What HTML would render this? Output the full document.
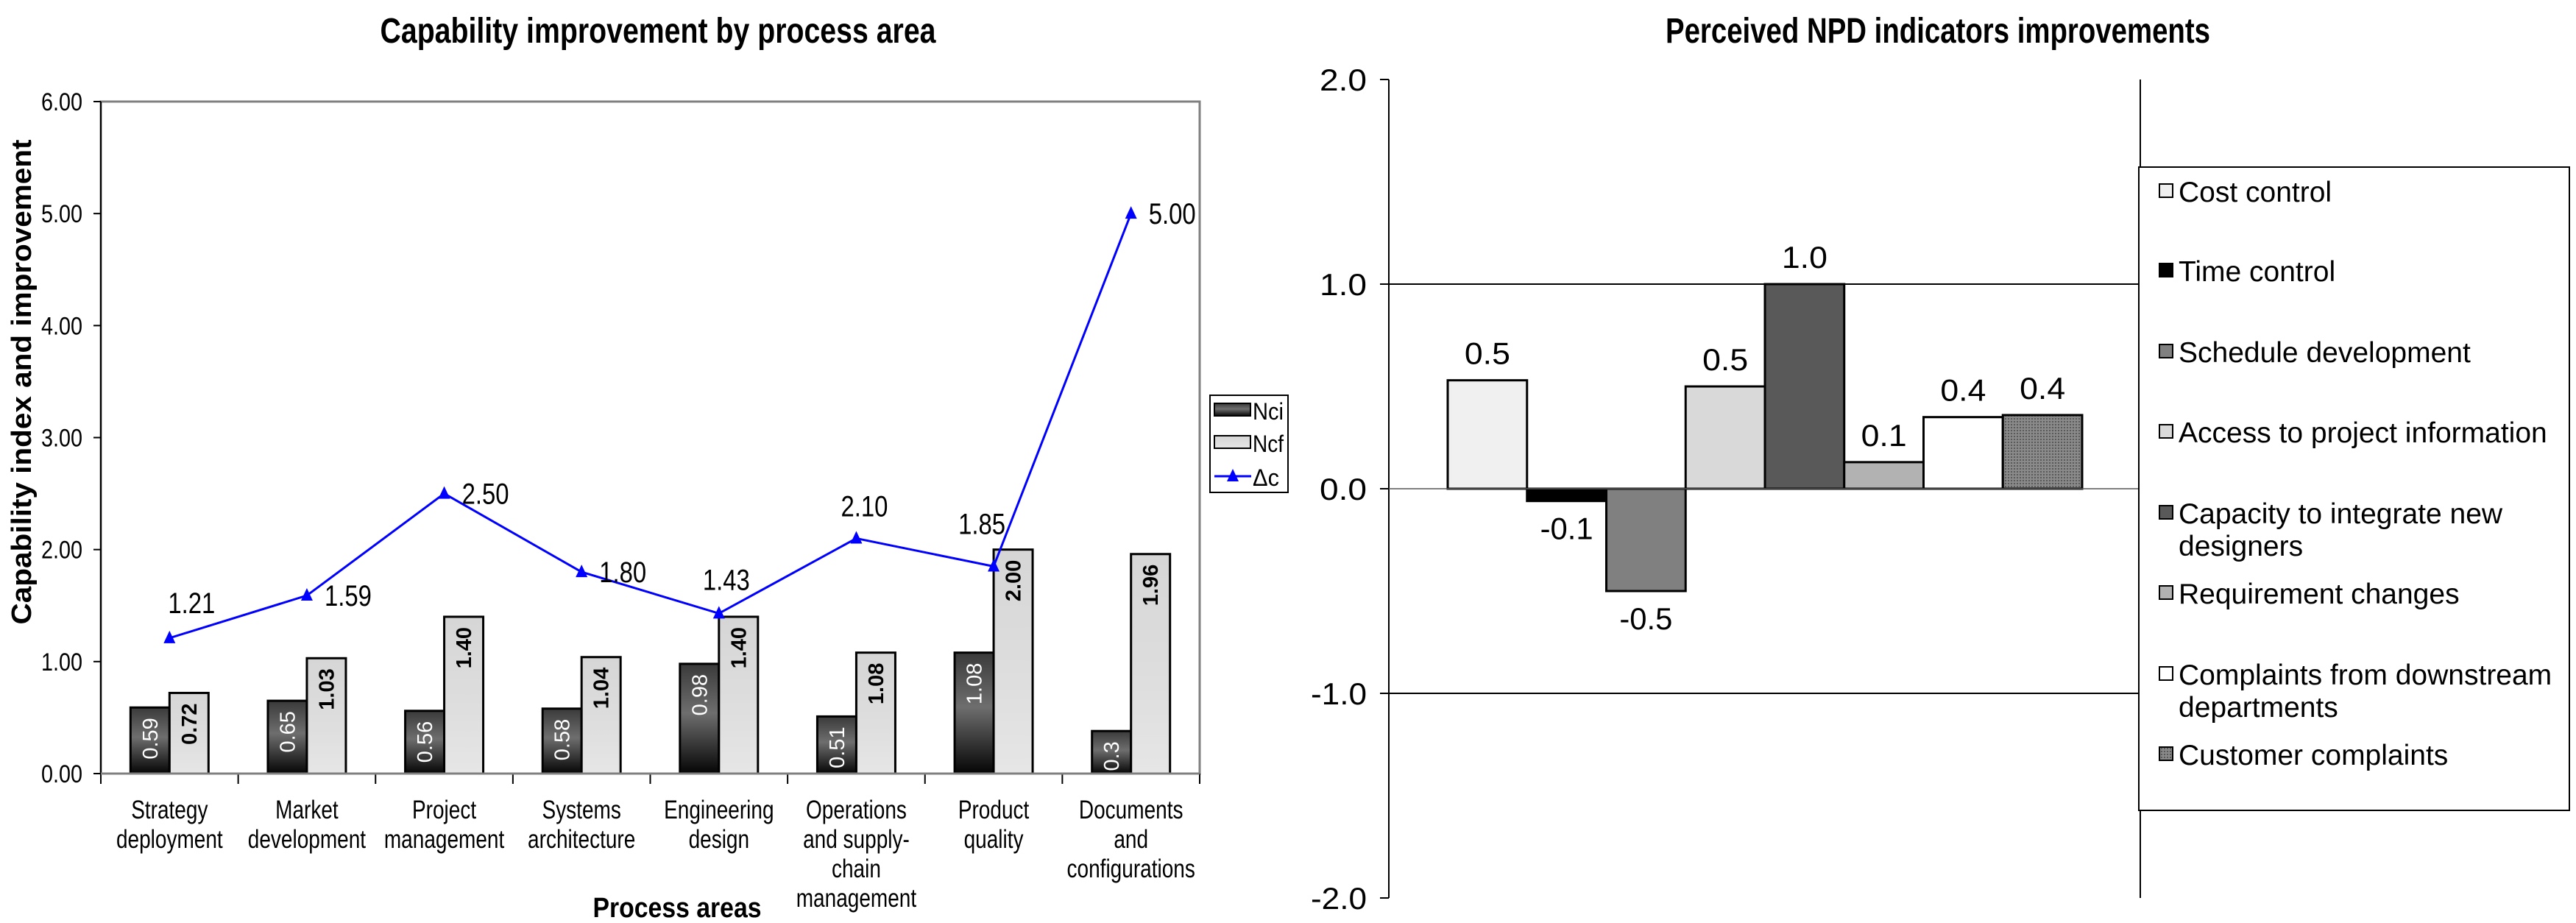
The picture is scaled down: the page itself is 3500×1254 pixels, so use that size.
<!DOCTYPE html>
<html><head><meta charset="utf-8"><style>
html,body{margin:0;padding:0;background:#fff}
svg{display:block}
text{font-family:"Liberation Sans Narrow","Liberation Sans",Arial,sans-serif}
</style></head><body>
<svg id="svg" width="3500" height="1254" viewBox="0 0 3500 1254" xmlns="http://www.w3.org/2000/svg">
<defs>
<linearGradient id="gNci" x1="0" y1="0" x2="0" y2="1">
<stop offset="0" stop-color="#3a3a3a"/><stop offset="0.45" stop-color="#6e6e6e"/><stop offset="1" stop-color="#050505"/></linearGradient>
<linearGradient id="gNcf" x1="0" y1="0" x2="0" y2="1">
<stop offset="0" stop-color="#d6d6d6"/><stop offset="0.6" stop-color="#dedede"/><stop offset="1" stop-color="#e6e6e6"/></linearGradient>
<pattern id="dots" width="4" height="4" patternUnits="userSpaceOnUse">
<rect width="4" height="4" fill="#8a8a8a"/><rect width="2" height="2" fill="#5a5a5a"/></pattern>
</defs>
<g id="left"></g>
<g id="right"></g>
</svg>
<script>
// ---- Left chart data
const categories = [["Strategy","deployment"],["Market","development"],["Project","management"],["Systems","architecture"],["Engineering","design"],["Operations","and supply-","chain","management"],["Product","quality"],["Documents","and","configurations"]];
const nciValues = [0.59,0.65,0.56,0.58,0.98,0.51,1.08,0.38];
const nciLabels = ["0.59","0.65","0.56","0.58","0.98","0.51","1.08","0.3"];
const ncfValues = [0.72,1.03,1.40,1.04,1.40,1.08,2.00,1.96];
const ncfLabels = ["0.72","1.03","1.40","1.04","1.40","1.08","2.00","1.96"];
const deltaValues = [1.21,1.59,2.50,1.80,1.43,2.10,1.85,5.00];
const deltaLabels = ["1.21","1.59","2.50","1.80","1.43","2.10","1.85","5.00"];
const leftTicks = [0,1,2,3,4,5,6];
const leftTickLabels = ["0.00","1.00","2.00","3.00","4.00","5.00","6.00"];
// ---- Right chart data
const indicatorNames = [["Cost control"],["Time control"],["Schedule development"],["Access to project information"],["Capacity to integrate new","designers"],["Requirement changes"],["Complaints from downstream","departments"],["Customer complaints"]];
const indicatorValues = [0.53,-0.06,-0.5,0.5,1.0,0.13,0.35,0.36];
const indicatorLabels = ["0.5","-0.1","-0.5","0.5","1.0","0.1","0.4","0.4"];
const rightTicks = [-2,-1,0,1,2];
const rightTickLabels = ["-2.0","-1.0","0.0","1.0","2.0"];

const NS="http://www.w3.org/2000/svg";
function mk(parent,tag,attrs,txt){const e=document.createElementNS(NS,tag);for(const k in attrs)e.setAttribute(k,attrs[k]);if(txt!==undefined)e.textContent=txt;parent.appendChild(e);return e;}

// ===== LEFT =====
const L=document.getElementById('left');
const lx0=137,lx1=1630,ly0=1051,ly1=138;
const ly=v=>ly0-(v/6)*(ly0-ly1);
const cw=(lx1-lx0)/categories.length;
const lcx=i=>lx0+cw*(i+0.5);
let t=mk(L,'text',{x:894,y:58,'text-anchor':'middle','font-size':48,'font-weight':'bold',textLength:755,lengthAdjust:'spacingAndGlyphs'},'Capability improvement by process area');

let pa=mk(L,'rect',{x:lx0,y:ly1,width:lx1-lx0,height:ly0-ly1,fill:'none',stroke:'#808080','stroke-width':3});

mk(L,'line',{x1:lx0,y1:ly1,x2:lx0,y2:ly0,stroke:'#000','stroke-width':2});
leftTicks.forEach((v,i)=>{
  mk(L,'line',{x1:lx0-10,y1:ly(v),x2:lx0,y2:ly(v),stroke:'#000','stroke-width':2});
  const e=mk(L,'text',{x:112,y:ly(v)+12,'text-anchor':'end','font-size':34,textLength:56,lengthAdjust:'spacingAndGlyphs'},leftTickLabels[i]);
  
});
t=mk(L,'text',{transform:'translate(42,519) rotate(-90)','text-anchor':'middle','font-size':38,'font-weight':'bold',textLength:659,lengthAdjust:'spacingAndGlyphs'},'Capability index and improvement');

for(let i=0;i<=categories.length;i++){mk(L,'line',{x1:lx0+cw*i,y1:ly0,x2:lx0+cw*i,y2:ly0+14,stroke:'#000','stroke-width':2});}
const bw=53;
categories.forEach((c,i)=>{
  const cx=lcx(i);
  const b1=mk(L,'rect',{x:cx-bw,y:ly(nciValues[i]),width:bw,height:ly0-ly(nciValues[i]),fill:'url(#gNci)',stroke:'#000','stroke-width':3});
  
  const b2=mk(L,'rect',{x:cx,y:ly(ncfValues[i]),width:bw,height:ly0-ly(ncfValues[i]),fill:'url(#gNcf)',stroke:'#000','stroke-width':3});
  
  const t1=mk(L,'text',{transform:`translate(${cx-bw/2+10},${ly(nciValues[i])+14}) rotate(-90)`,'text-anchor':'end','font-size':29,fill:'#fff'},nciLabels[i]);
  
  const t2=mk(L,'text',{transform:`translate(${cx+bw/2+10},${ly(ncfValues[i])+14}) rotate(-90)`,'text-anchor':'end','font-size':29,'font-weight':'bold',fill:'#000'},ncfLabels[i]);
  
  const lab=mk(L,'text',{'text-anchor':'middle','font-size':35,transform:`translate(${cx},0) scale(0.8,1)`});
  
  c.forEach((s,j)=>{mk(lab,'tspan',{x:0,y:1112+j*40},s);});
});
mk(L,'line',{x1:lx0,y1:ly0,x2:lx1,y2:ly0,stroke:'#808080','stroke-width':3});
const pts=deltaValues.map((v,i)=>lcx(i)+','+ly(v)).join(' ');
const pl=mk(L,'polyline',{points:pts,fill:'none',stroke:'#0000ff','stroke-width':3});

const lblOff=[[30,-48],[56,0],[56,0],[56,0],[10,-46],[11,-44],[-16,-58],[56,0]];
deltaValues.forEach((v,i)=>{
  const x=lcx(i),y=ly(v);
  const m=mk(L,'polygon',{points:`${x},${y-10} ${x-8},${y+7} ${x+8},${y+7}`,fill:'#0000ff'});
  
  const e=mk(L,'text',{x:x+lblOff[i][0],y:y+lblOff[i][1]+14,'text-anchor':'middle','font-size':40,textLength:64,lengthAdjust:'spacingAndGlyphs'},deltaLabels[i]);
  
});
t=mk(L,'text',{x:920,y:1246,'text-anchor':'middle','font-size':38,'font-weight':'bold',textLength:229,lengthAdjust:'spacingAndGlyphs'},'Process areas');

// legend
const lg=mk(L,'g',{});
mk(lg,'rect',{x:1644,y:537,width:106,height:132,fill:'#fff',stroke:'#000','stroke-width':2});
mk(lg,'rect',{x:1650,y:548,width:49,height:17,fill:'url(#gNci)',stroke:'#000','stroke-width':2});
mk(lg,'rect',{x:1650,y:592,width:49,height:17,fill:'url(#gNcf)',stroke:'#000','stroke-width':2});
mk(lg,'line',{x1:1650,y1:647,x2:1700,y2:647,stroke:'#0000ff','stroke-width':3});
mk(lg,'polygon',{points:'1675,637 1667,654 1683,654',fill:'#0000ff'});
mk(lg,'text',{x:1702,y:570,'font-size':32,textLength:42,lengthAdjust:'spacingAndGlyphs'},'Nci');
mk(lg,'text',{x:1702,y:614,'font-size':32,textLength:42,lengthAdjust:'spacingAndGlyphs'},'Ncf');
mk(lg,'text',{x:1702,y:660,'font-size':32,textLength:36,lengthAdjust:'spacingAndGlyphs'},'Δc');

// ===== RIGHT =====
const R=document.getElementById('right');
const rx0=1887,rx1=2908,ryTop=108,ryBot=1220;
const ry=v=>ryTop+(2-v)/4*(ryBot-ryTop);
t=mk(R,'text',{x:2633,y:58,'text-anchor':'middle','font-size':48,'font-weight':'bold',textLength:740,lengthAdjust:'spacingAndGlyphs'},'Perceived NPD indicators improvements');

mk(R,'line',{x1:rx0,y1:ryTop,x2:rx0,y2:ryBot,stroke:'#000','stroke-width':2});
mk(R,'line',{x1:rx1,y1:ryTop,x2:rx1,y2:ryBot,stroke:'#000','stroke-width':2});
rightTicks.forEach((v,i)=>{
  mk(R,'line',{x1:rx0-12,y1:ry(v),x2:rx0,y2:ry(v),stroke:'#000','stroke-width':2});
  if(v===1||v===-1){const g=mk(R,'line',{x1:rx0,y1:ry(v),x2:rx1,y2:ry(v),stroke:'#000','stroke-width':2});}
  const e=mk(R,'text',{x:1857,y:ry(v)+15,'text-anchor':'end','font-size':42,textLength:v<0?76:64,lengthAdjust:'spacingAndGlyphs'},rightTickLabels[i]);
  
});
const fills=['#f0f0f0','#000000','#808080','#d9d9d9','#595959','#b2b2b2','#ffffff','url(#dots)'];
const bx0=1967,rbw=(2829-1967)/indicatorValues.length;
indicatorValues.forEach((v,i)=>{
  const x=bx0+rbw*i,y0=ry(0),y=ry(v);
  const b=mk(R,'rect',{x:x,y:Math.min(y,y0),width:rbw,height:Math.abs(y0-y),fill:fills[i],stroke:'#000','stroke-width':3});
  
  const ly_=v>=0?y-22:y+52;
  const e=mk(R,'text',{x:x+rbw/2,y:ly_,'text-anchor':'middle','font-size':42,textLength:v>=0?62:72,lengthAdjust:'spacingAndGlyphs'},indicatorLabels[i]);
  
});
mk(R,'line',{x1:rx0,y1:ry(0),x2:rx1,y2:ry(0),stroke:'#555','stroke-width':1.5});
const rg=mk(R,'g',{});
mk(rg,'rect',{x:2906,y:227,width:585,height:874,fill:'#fff',stroke:'#000','stroke-width':2});
const legY=[260,368,478,587,697,806,916,1025];
indicatorNames.forEach((n,i)=>{
  const e=mk(rg,'rect',{x:2934,y:legY[i]-10,width:18,height:18,fill:fills[i],stroke:'#000','stroke-width':2});
  
  const tx=mk(rg,'text',{'font-size':39,'font-family':'Liberation Sans, Arial, sans-serif'});
  
  n.forEach((s,j)=>mk(tx,'tspan',{x:2960,y:legY[i]+14+j*44},s));
});
</script>
</body></html>
